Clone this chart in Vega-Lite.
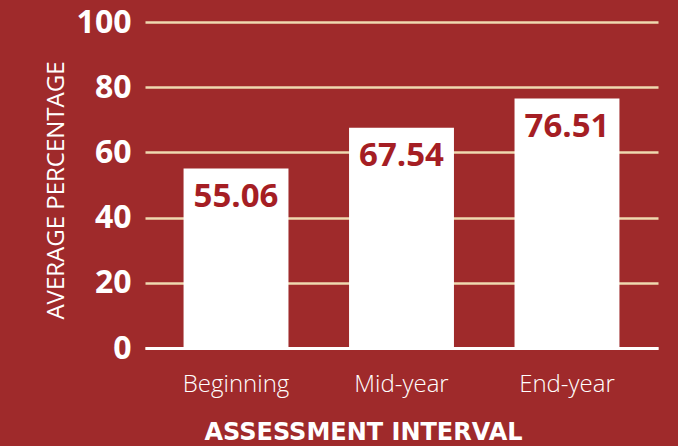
{
  "$schema": "https://vega.github.io/schema/vega-lite/v6.json",
  "autosize": {"type": "none"},
  "padding": {"left": 145, "top": 22, "right": 20, "bottom": 98},
  "width": 513,
  "height": 326,
  "background": "#9f2a2b",
  "config": {"view": {"stroke": null}},
  "data": {"values": [
    {"interval": "Beginning", "value": 55.06},
    {"interval": "Mid-year", "value": 67.54},
    {"interval": "End-year", "value": 76.51}
  ]},
  "encoding": {
    "x": {
      "field": "interval", "type": "nominal", "sort": null,
      "scale": {"paddingInner": 0.366, "paddingOuter": 0.233},
      "axis": {
        "title": "ASSESSMENT INTERVAL",
        "labelAngle": 0,
        "labelFont": "Open Sans", "labelFontSize": 24, "labelFontWeight": 300,
        "labelColor": "#ffffff", "labelBaseline": "alphabetic", "labelPadding": 43,
        "ticks": false,
        "domainColor": "#ffffff", "domainWidth": 3,
        "titleFont": "DejaVu Sans", "titleFontSize": 24, "titleFontWeight": "bold",
        "titleColor": "#ffffff", "titleX": 218, "titleY": 91, "titleBaseline": "alphabetic"
      }
    },
    "y": {
      "field": "value", "type": "quantitative",
      "scale": {"domain": [0, 100]},
      "axis": {
        "title": "AVERAGE PERCENTAGE",
        "values": [0, 20, 40, 60, 80, 100],
        "labelFont": "Open Sans", "labelFontSize": 32, "labelFontWeight": "bold",
        "labelColor": "#ffffff", "labelPadding": 14, "labelBaseline": "middle",
        "ticks": false, "domain": false,
        "grid": true, "gridColor": "#efd9b0", "gridWidth": 2.5, "gridOpacity": 1,
        "titleFont": "Open Sans", "titleFontSize": 24, "titleFontWeight": "normal",
        "titleColor": "#ffffff", "titleX": -82, "titleY": 168, "titleBaseline": "alphabetic"
      }
    }
  },
  "layer": [
    {"mark": {"type": "bar", "color": "#ffffff"}},
    {
      "mark": {"type": "text", "font": "Open Sans", "fontSize": 33, "fontWeight": "bold",
               "color": "#a51e24", "baseline": "alphabetic", "align": "center", "dy": 38},
      "encoding": {"text": {"field": "value", "type": "quantitative", "format": ".2f"}}
    }
  ]
}
